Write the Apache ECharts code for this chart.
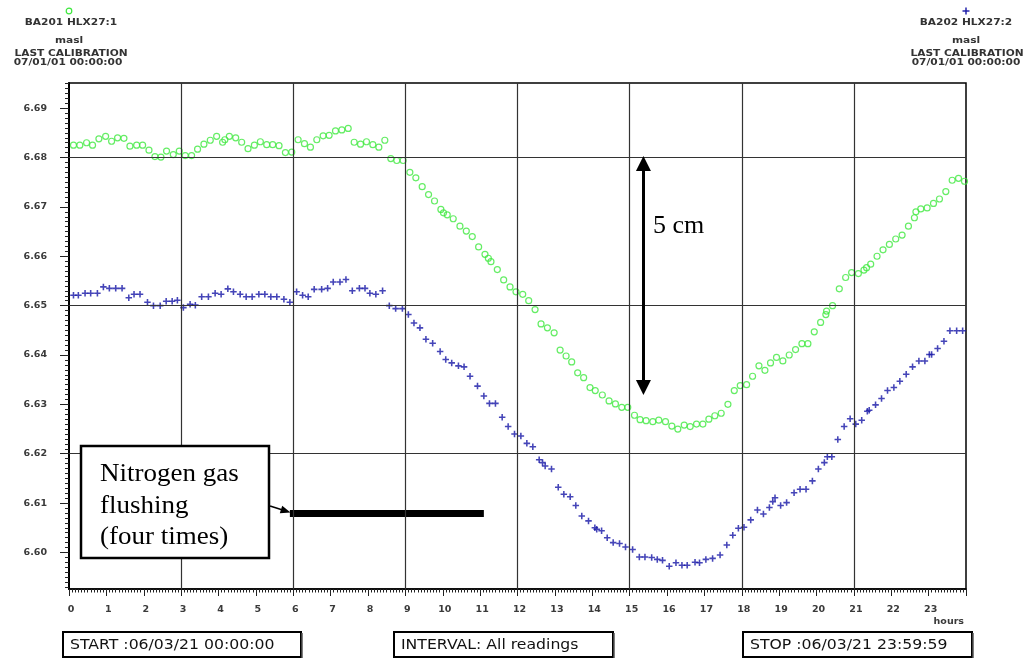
<!DOCTYPE html>
<html><head><meta charset="utf-8">
<script src="https://cdn.jsdelivr.net/npm/echarts@6/dist/echarts.min.js"></script>
<style>html,body{margin:0;padding:0;background:#fff}#c{width:1029px;height:662px}</style>
</head><body><div id="c"></div>
<script>
// ---- data (hours since 06/03/21 00:00, level in masl) ----
const greenHours = [0.12,0.29,0.47,0.63,0.80,0.98,1.14,1.30,1.47,1.63,1.81,1.97,2.14,2.30,2.46,2.61,2.79,2.95,3.11,3.28,3.44,3.61,3.78,3.95,4.11,4.17,4.29,4.46,4.62,4.79,4.96,5.12,5.29,5.45,5.62,5.79,5.96,6.13,6.30,6.46,6.63,6.80,6.96,7.13,7.30,7.47,7.63,7.80,7.96,8.13,8.29,8.45,8.61,8.77,8.94,9.12,9.28,9.45,9.62,9.78,9.95,10.02,10.12,10.28,10.46,10.63,10.79,10.96,11.13,11.22,11.29,11.46,11.63,11.80,11.96,12.14,12.30,12.47,12.63,12.80,12.98,13.14,13.30,13.45,13.61,13.77,13.94,14.08,14.27,14.45,14.62,14.79,14.95,15.13,15.28,15.44,15.62,15.78,15.96,16.13,16.29,16.46,16.62,16.79,16.96,17.12,17.28,17.45,17.63,17.80,17.96,18.13,18.29,18.46,18.62,18.77,18.93,19.10,19.27,19.44,19.61,19.77,19.94,20.11,20.25,20.27,20.43,20.61,20.78,20.94,21.12,21.27,21.34,21.45,21.62,21.78,21.95,22.12,22.29,22.46,22.62,22.66,22.79,22.96,23.13,23.29,23.46,23.63,23.80,23.96];
const greenValues = [6.6825,6.6825,6.6830,6.6825,6.6838,6.6843,6.6833,6.6840,6.6839,6.6823,6.6825,6.6825,6.6815,6.6802,6.6801,6.6813,6.6806,6.6813,6.6804,6.6804,6.6817,6.6827,6.6835,6.6843,6.6831,6.6836,6.6843,6.6840,6.6831,6.6818,6.6825,6.6832,6.6826,6.6826,6.6824,6.6810,6.6811,6.6836,6.6828,6.6821,6.6836,6.6844,6.6845,6.6854,6.6856,6.6859,6.6831,6.6827,6.6832,6.6826,6.6821,6.6835,6.6798,6.6794,6.6794,6.6770,6.6759,6.6741,6.6725,6.6712,6.6695,6.6688,6.6684,6.6676,6.6661,6.6651,6.6640,6.6619,6.6604,6.6596,6.6589,6.6573,6.6552,6.6538,6.6528,6.6523,6.6510,6.6492,6.6463,6.6455,6.6445,6.6410,6.6398,6.6386,6.6364,6.6354,6.6334,6.6328,6.6319,6.6307,6.6301,6.6294,6.6294,6.6278,6.6269,6.6267,6.6265,6.6268,6.6265,6.6256,6.6250,6.6258,6.6255,6.6260,6.6260,6.6270,6.6277,6.6282,6.6300,6.6328,6.6338,6.6340,6.6357,6.6378,6.6369,6.6384,6.6395,6.6388,6.6400,6.6411,6.6423,6.6423,6.6447,6.6466,6.6482,6.6489,6.6500,6.6534,6.6557,6.6567,6.6565,6.6572,6.6577,6.6584,6.6600,6.6613,6.6624,6.6635,6.6643,6.6661,6.6678,6.6690,6.6696,6.6698,6.6707,6.6716,6.6731,6.6754,6.6758,6.6752];
const blueHours = [0.12,0.25,0.43,0.58,0.76,0.92,1.08,1.25,1.42,1.60,1.74,1.90,2.10,2.26,2.44,2.60,2.76,2.90,3.06,3.24,3.38,3.55,3.73,3.91,4.07,4.25,4.40,4.58,4.74,4.90,5.08,5.24,5.40,5.56,5.75,5.91,6.09,6.25,6.40,6.56,6.76,6.92,7.07,7.25,7.41,7.58,7.77,7.92,8.05,8.21,8.39,8.57,8.74,8.92,9.08,9.23,9.39,9.55,9.73,9.93,10.08,10.24,10.42,10.57,10.73,10.93,11.10,11.25,11.41,11.59,11.75,11.92,12.09,12.25,12.41,12.58,12.67,12.74,12.91,13.09,13.24,13.41,13.56,13.72,13.90,14.07,14.12,14.25,14.40,14.56,14.73,14.89,15.08,15.26,15.41,15.59,15.74,15.88,16.06,16.24,16.40,16.54,16.75,16.87,17.04,17.22,17.42,17.60,17.76,17.91,18.06,18.24,18.42,18.58,18.74,18.83,18.89,19.04,19.20,19.40,19.56,19.72,19.89,20.05,20.21,20.29,20.41,20.57,20.74,20.90,21.05,21.21,21.36,21.41,21.58,21.74,21.90,22.07,22.23,22.40,22.57,22.74,22.90,23.02,23.08,23.24,23.41,23.57,23.75,23.91];
const blueValues = [6.6521,6.6521,6.6525,6.6525,6.6525,6.6538,6.6535,6.6535,6.6535,6.6516,6.6523,6.6523,6.6507,6.6500,6.6500,6.6509,6.6509,6.6511,6.6496,6.6503,6.6501,6.6518,6.6518,6.6525,6.6523,6.6534,6.6528,6.6523,6.6518,6.6518,6.6523,6.6523,6.6518,6.6518,6.6513,6.6507,6.6528,6.6521,6.6518,6.6533,6.6533,6.6535,6.6548,6.6548,6.6553,6.6530,6.6535,6.6535,6.6525,6.6523,6.6530,6.6500,6.6494,6.6494,6.6482,6.6465,6.6455,6.6432,6.6424,6.6407,6.6391,6.6384,6.6378,6.6376,6.6357,6.6337,6.6317,6.6302,6.6302,6.6274,6.6255,6.6240,6.6236,6.6221,6.6214,6.6188,6.6182,6.6175,6.6169,6.6132,6.6118,6.6113,6.6095,6.6074,6.6064,6.6050,6.6047,6.6044,6.6030,6.6020,6.6018,6.6011,6.6006,6.5991,6.5991,6.5990,6.5986,6.5984,6.5972,6.5979,6.5974,6.5974,6.5980,6.5979,6.5986,6.5988,6.5995,6.6015,6.6035,6.6049,6.6051,6.6066,6.6086,6.6078,6.6091,6.6103,6.6111,6.6095,6.6101,6.6121,6.6128,6.6128,6.6145,6.6169,6.6182,6.6194,6.6194,6.6229,6.6255,6.6271,6.6260,6.6268,6.6286,6.6288,6.6299,6.6312,6.6328,6.6334,6.6347,6.6361,6.6376,6.6388,6.6388,6.6401,6.6401,6.6413,6.6428,6.6449,6.6449,6.6449];
const xTickLabels = ['0','1','2','3','4','5','6','7','8','9','10','11','12','13','14','15','16','17','18','19','20','21','22','23'];
const yTickValues = [6.60,6.61,6.62,6.63,6.64,6.65,6.66,6.67,6.68,6.69];
const gridLevels = [6.68,6.65,6.62];
const gridHours = [3,6,9,12,15,18,21];
const flushHours = [5.91,11.10];
const flushLevel = 6.6079;
const arrow5cm = {hour:15.37, top:6.6788, bottom:6.6334, text:'5 cm'};
const noteArrow = {from:[5.38,6.6094], to:[5.80,6.6084]};
const Y_MIN = 6.5926, Y_MAX = 6.6951;
const yMinorTicks = [];
for (let i = 6593; i <= 6695; i++) yMinorTicks.push(i/1000);

const GREEN = '#3ee83e', BLUE = '#1616a6';
const plusPath = 'path://M3.8,0h2.4v3.8h3.8v2.4h-3.8v3.8h-2.4v-3.8h-3.8v-2.4h3.8z';
const chart = echarts.init(document.getElementById('c'));
const smallFont = 'DejaVu Sans';
function hdr(x, y, t){ return {type:'text', x:x, y:y, scaleX:1.25, style:{text:t, fontFamily:smallFont, fontSize:8.5, fontWeight:'bold', fill:'#333', textAlign:'center', textVerticalAlign:'middle'}}; }
function box(x1, x2, t){
  return [
    {type:'rect', shape:{x:x1, y:632, width:x2-x1, height:25}, style:{fill:'#fff', stroke:'#000', lineWidth:2}},
    {type:'line', shape:{x1:x2+1, y1:633, x2:x2+1, y2:658}, style:{stroke:'#555', lineWidth:1.5}},
    {type:'text', x:x1+7, y:645, scaleX:1.12, style:{text:t, fontFamily:smallFont, fontSize:14, fill:'#111', textAlign:'left', textVerticalAlign:'middle'}}
  ];
}
const noteFont = {fontFamily:'Liberation Serif', fontSize:25, fill:'#000', textAlign:'left', textVerticalAlign:'middle'};
chart.setOption({
  animation:false,
  backgroundColor:'#fff',
  grid:{left:69, right:63, top:83, bottom:73, show:true, borderColor:'#000', borderWidth:1.5, backgroundColor:'transparent'},
  xAxis:{type:'value', min:0, max:24, interval:1,
    axisLine:{show:true, lineStyle:{color:'#000', width:1.5}},
    axisTick:{show:true, length:7, lineStyle:{color:'#222', width:1}},
    minorTick:{show:true, splitNumber:12, length:3.5, lineStyle:{color:'#222', width:1}},
    minorSplitLine:{show:false},
    splitLine:{show:false},
    axisLabel:{showMinLabel:true, showMaxLabel:true, formatter:v=> (v<24 ? xTickLabels[Math.round(v)] : ''), margin:16, fontFamily:smallFont, fontSize:9.5, fontWeight:'bold', color:'#3a3a3a', padding:[0,0,0,4]}
  },
  yAxis:[
    {type:'value', min:Y_MIN, max:Y_MAX, position:'left',
      axisLine:{show:true, lineStyle:{color:'#000', width:2}},
      axisTick:{show:true, length:9, customValues:yTickValues, lineStyle:{color:'#222'}},
      axisLabel:{customValues:yTickValues, formatter:v=>v.toFixed(2), margin:22, fontFamily:smallFont, fontSize:9.5, fontWeight:'bold', color:'#3a3a3a'},
      splitLine:{show:false}},
    {type:'value', min:Y_MIN, max:Y_MAX, position:'left', offset:0,
      axisLine:{show:false},
      axisTick:{show:true, length:4, customValues:yMinorTicks, lineStyle:{color:'#222'}},
      axisLabel:{show:false}, splitLine:{show:false}}
  ],
  series:[
    {name:'flushing', type:'line', z:2, data:flushHours.map(h=>[h, flushLevel]), symbol:'none',
      lineStyle:{color:'#000', width:7, cap:'butt'},
      markLine:{silent:true, symbol:['none','none'], label:{show:false}, animation:false,
        lineStyle:{color:'#333', width:1.2, type:'solid'},
        data: gridLevels.map(v=>({yAxis:v})).concat(gridHours.map(h=>({xAxis:h})))}
    },
    {name:'BA201 HLX27:1', type:'scatter', z:3, data:greenHours.map((h,i)=>[h, greenValues[i]]),
      symbol:'circle', symbolSize:6, itemStyle:{color:'rgba(0,0,0,0)', borderColor:GREEN, borderWidth:1.2}},
    {name:'BA202 HLX27:2', type:'scatter', z:3, data:blueHours.map((h,i)=>[h, blueValues[i]]),
      symbol:plusPath, symbolSize:6.5, itemStyle:{color:BLUE},
      markLine:{silent:true, label:{show:false}, animation:false,
        lineStyle:{color:'#000', width:3, type:'solid'},
        data:[
          [{coord:[arrow5cm.hour, arrow5cm.top], symbol:'triangle', symbolSize:[15,15]},
           {coord:[arrow5cm.hour, arrow5cm.bottom], symbol:'triangle', symbolSize:[15,15]}],
          [{coord:noteArrow.from, symbol:'none', lineStyle:{width:1.5, color:'#000', type:'solid'}},
           {coord:noteArrow.to, symbol:'triangle', symbolSize:[8,10]}]
        ]}
    }
  ],
  graphic:[
    {type:'circle', shape:{cx:69, cy:11, r:2.8}, style:{fill:'none', stroke:GREEN, lineWidth:1.2}},
    {type:'line', shape:{x1:962.5, y1:11, x2:969.5, y2:11}, style:{stroke:BLUE, lineWidth:1.4}},
    {type:'line', shape:{x1:966, y1:7.5, x2:966, y2:14.5}, style:{stroke:BLUE, lineWidth:1.4}},
    hdr(71, 22.5, 'BA201 HLX27:1'), hdr(69, 40.5, 'masl'), hdr(71, 53.5, 'LAST CALIBRATION'), hdr(68, 62.5, '07/01/01 00:00:00'),
    hdr(966, 22.5, 'BA202 HLX27:2'), hdr(966, 40.5, 'masl'), hdr(967, 53.5, 'LAST CALIBRATION'), hdr(966, 62.5, '07/01/01 00:00:00'),
    {type:'text', x:964, y:622, style:{text:'hours', fontFamily:smallFont, fontSize:9.5, fontWeight:'bold', fill:'#3a3a3a', textAlign:'right', textVerticalAlign:'middle'}},
    ...box(63, 301, 'START :06/03/21 00:00:00'),
    ...box(394, 613, 'INTERVAL: All readings'),
    ...box(743, 972, 'STOP :06/03/21 23:59:59'),
    {type:'rect', z:50, shape:{x:81, y:446, width:188, height:112}, style:{fill:'#fff', stroke:'#000', lineWidth:2.5}},
    {type:'text', z:51, x:100, y:474, scaleX:1.08, style:Object.assign({text:'Nitrogen gas'}, noteFont)},
    {type:'text', z:51, x:100, y:506, scaleX:1.08, style:Object.assign({text:'flushing'}, noteFont)},
    {type:'text', z:51, x:100, y:537, scaleX:1.08, style:Object.assign({text:'(four times)'}, noteFont)},
    {type:'text', z:51, x:653, y:226, style:{text:arrow5cm.text, fontFamily:'Liberation Serif', fontSize:26, fill:'#000', textAlign:'left', textVerticalAlign:'middle'}}
  ]
});
</script></body></html>
